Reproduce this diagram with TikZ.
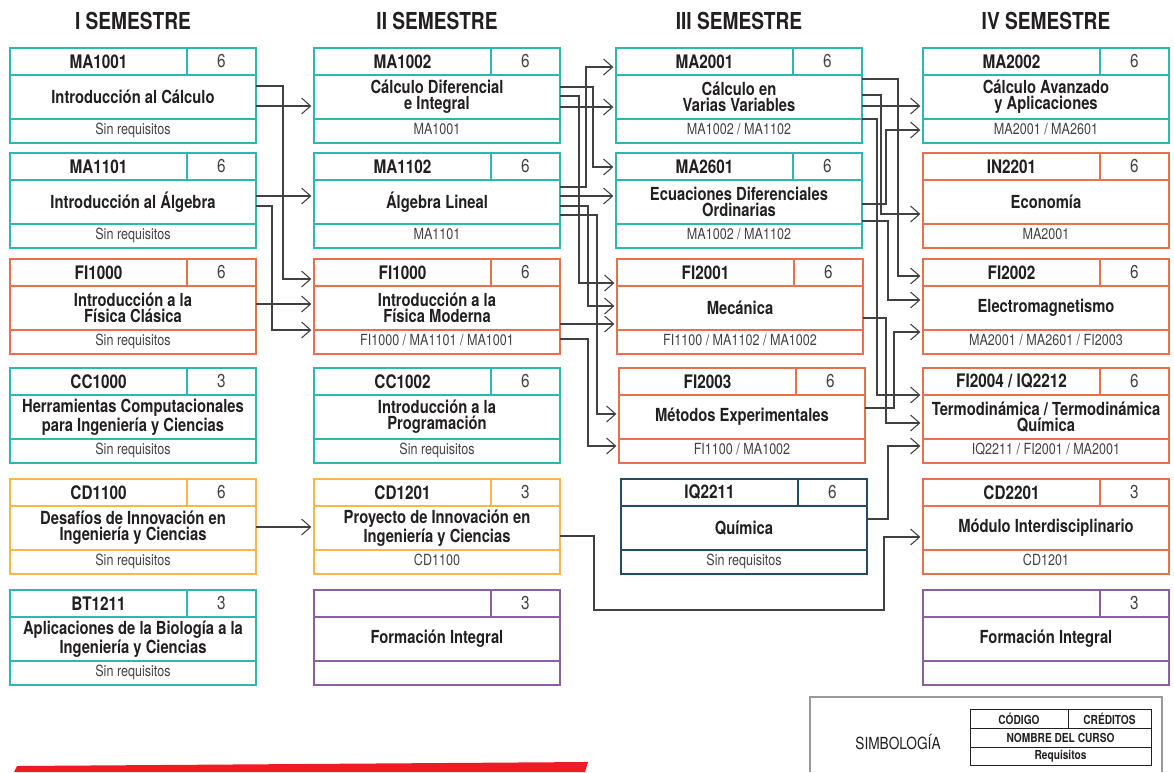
\documentclass[tikz,border=0pt]{standalone}
\usepackage{fontspec}
\setmainfont{TeX Gyre Heros}[FakeStretch=0.82]
\usetikzlibrary{arrows.meta}

\definecolor{mteal}{HTML}{2BB8B0}
\definecolor{morange}{HTML}{E9704D}
\definecolor{myellow}{HTML}{F8B64C}
\definecolor{mpurple}{HTML}{8C5FA0}
\definecolor{mnavy}{HTML}{244A64}
\definecolor{mink}{HTML}{231F20}
\definecolor{mlink}{HTML}{404040}
\definecolor{mred}{HTML}{ED1C24}

\tikzset{
  coursebox/.style={rectangle, line width=1.4pt, inner sep=0pt, outer sep=0pt,
                    minimum width=184.5pt, minimum height=71.25pt},
  codetxt/.style={text=mink, font=\fontsize{14}{16}\selectfont\bfseries},
  credtxt/.style={text=mink!85, font=\fontsize{14}{16}\selectfont},
  nametxt/.style={text=mink, align=center, font=\fontsize{13.5}{12}\selectfont\bfseries},
  reqtxt/.style={text=mink!85, anchor=mid, font=\fontsize{11.5}{13}\selectfont},
  semtitle/.style={text=mink, font=\fontsize{17.5}{20}\selectfont\bfseries},
  link/.style={draw=mlink, line width=0.8pt, shorten >=2pt,
               -{Straight Barb[length=6.75pt,width=12pt]}},
  keytxt/.style={text=mink, font=\fontsize{9.3}{11}\selectfont\bfseries}
}

% #1 name, #2 x, #3 y, #4 colour, #5 code, #6 credits, #7 title, #8 requisites
\newcommand{\curso}[8]{%
  \node[coursebox, draw=#4, anchor=north west] (#1) at (#2,#3) {};
  \draw[#4, line width=1.4pt] ([yshift=-20.25pt]#1.north west) -- ([yshift=-20.25pt]#1.north east);
  \draw[#4, line width=1.4pt] ([yshift=-53.25pt]#1.north west) -- ([yshift=-53.25pt]#1.north east);
  \draw[#4, line width=1.4pt] ([xshift=132.75pt]#1.north west) -- ([xshift=132.75pt,yshift=-20.25pt]#1.north west);
  \node[codetxt] (#1c) at ([xshift=66.4pt,yshift=-10.1pt]#1.north west) {#5};
  \node[credtxt] (#1k) at ([xshift=158.6pt,yshift=-10.1pt]#1.north west) {#6};
  \node[nametxt] (#1n) at ([xshift=92.25pt,yshift=-36.75pt]#1.north west) {#7};
  \node[reqtxt] (#1r) at ([xshift=92.25pt,yshift=-62.25pt]#1.north west) {#8};
}

\begin{document}
\begin{tikzpicture}[x=0.75pt, y=-0.75pt]
  \useasboundingbox (0,0) rectangle (1174,772);

  \foreach \cx/\sem in {133/I, 437/II, 739/III, 1046/IV} {
    \node[semtitle] (sem\sem) at (\cx,21) {\sem\ SEMESTRE};
  }

  % I semestre
  \curso{ma1001}{10}{48}{mteal}{MA1001}{6}{Introducción al Cálculo}{Sin requisitos}
  \curso{ma1101}{10}{153}{mteal}{MA1101}{6}{Introducción al Álgebra}{Sin requisitos}
  \curso{fi1000a}{10}{259}{morange}{FI1000}{6}{Introducción a la\\Física Clásica}{Sin requisitos}
  \curso{cc1000}{10}{368}{mteal}{CC1000}{3}{Herramientas Computacionales\\para Ingeniería y Ciencias}{Sin requisitos}
  \curso{cd1100}{10}{479}{myellow}{CD1100}{6}{Desafíos de Innovación en\\Ingeniería y Ciencias}{Sin requisitos}
  \curso{bt1211}{10}{590}{mteal}{BT1211}{3}{Aplicaciones de la Biología a la\\Ingeniería y Ciencias}{Sin requisitos}

  % II semestre
  \curso{ma1002}{314}{48}{mteal}{MA1002}{6}{Cálculo Diferencial\\e Integral}{MA1001}
  \curso{ma1102}{314}{153}{mteal}{MA1102}{6}{Álgebra Lineal}{MA1101}
  \curso{fi1000b}{314}{259}{morange}{FI1000}{6}{Introducción a la\\Física Moderna}{FI1000 / MA1101 / MA1001}
  \curso{cc1002}{314}{368}{mteal}{CC1002}{6}{Introducción a la\\Programación}{Sin requisitos}
  \curso{cd1201}{314}{479}{myellow}{CD1201}{3}{Proyecto de Innovación en\\Ingeniería y Ciencias}{CD1100}
  \curso{fintA}{314}{590}{mpurple}{}{3}{Formación Integral}{}

  % III semestre
  \curso{ma2001}{616}{48}{mteal}{MA2001}{6}{Cálculo en\\Varias Variables}{MA1002 / MA1102}
  \curso{ma2601}{616}{153}{mteal}{MA2601}{6}{Ecuaciones Diferenciales\\Ordinarias}{MA1002 / MA1102}
  \curso{fi2001}{617}{259}{morange}{FI2001}{6}{Mecánica}{FI1100 / MA1102 / MA1002}
  \curso{fi2003}{619}{368}{morange}{FI2003}{6}{Métodos Experimentales}{FI1100 / MA1002}
  \curso{iq2211}{621}{479}{mnavy}{IQ2211}{6}{Química}{Sin requisitos}

  % IV semestre
  \curso{ma2002}{923}{48}{mteal}{MA2002}{6}{Cálculo Avanzado\\y Aplicaciones}{MA2001 / MA2601}
  \curso{in2201}{923}{153}{morange}{IN2201}{6}{Economía}{MA2001}
  \curso{fi2002}{923}{259}{morange}{FI2002}{6}{Electromagnetismo}{MA2001 / MA2601 / FI2003}
  \curso{fi2004}{923}{368}{morange}{FI2004 / IQ2212}{6}{Termodinámica / Termodinámica\\Química}{IQ2211 / FI2001 / MA2001}
  \curso{cd2201}{923}{479}{morange}{CD2201}{3}{Módulo Interdisciplinario}{CD1201}
  \curso{fintB}{923}{590}{mpurple}{}{3}{Formación Integral}{}

  % requisitos
  \foreach \a/\ya/\xm/\b/\yb in {
      ma1001/106/285/ma1002/106, ma1001/86/283/fi1000b/279,
      ma1101/196/285/ma1102/196, ma1101/206/272/fi1000b/330,
      fi1000a/304/285/fi1000b/304, cd1100/527/285/cd1201/527,
      ma1002/87/593/ma2601/167, ma1002/96/579/fi2001/283,
      ma1002/107/590/ma2001/107, ma1102/187/586/ma2001/67,
      ma1102/196/590/ma2601/196, ma1102/206/588/fi2001/306,
      ma1102/215/597/fi2003/414, fi1000b/324/590/fi2001/324,
      fi1000b/339/588/fi2003/446,
      ma2001/79/898/fi2002/276, ma2001/95/881/in2201/214,
      ma2001/106/890/ma2002/106, ma2001/119/877/fi2004/395,
      ma2601/204/886/ma2002/130, ma2601/221/888/fi2002/300,
      fi2001/318/886/fi2004/423, fi2003/408/894/fi2002/332,
      iq2211/519/888/fi2004/446} {
    \draw[link] (\a.east |- 0,\ya) -| (\xm,\yb) -- (\b.west |- 0,\yb);
  }
  \draw[link] (cd1201.east |- 0,536) -| (594,610) -| (884,537) -- (cd2201.west |- 0,537);

  % simbologia
  \draw[gray!80, line width=0.8pt] (810,772) -- (810,697) -- (1162,697) -- (1162,772);
  \node[text=mink, font=\fontsize{12.5}{14}\selectfont] (simb) at (898,742) {SIMBOLOGÍA};
  \node[draw=mink, line width=0.6pt, inner sep=0pt, anchor=north west,
        minimum width=135.75pt, minimum height=42pt] (key) at (970,709) {};
  \draw[mink, line width=0.6pt] ([yshift=-14.25pt]key.north west) -- ([yshift=-14.25pt]key.north east);
  \draw[mink, line width=0.6pt] ([yshift=-28.5pt]key.north west) -- ([yshift=-28.5pt]key.north east);
  \draw[mink, line width=0.6pt] ([xshift=73.5pt]key.north west) -- ([xshift=73.5pt,yshift=-14.25pt]key.north west);
  \node[keytxt] (keycode) at (1019,718.5) {CÓDIGO};
  \node[keytxt] (keycred) at (1109.5,718.5) {CRÉDITOS};
  \node[keytxt] (keyname) at (1060.5,737.5) {NOMBRE DEL CURSO};
  \node[keytxt] (keyreq) at (1060.5,756) {Requisitos};

  % franja roja
  \fill[mred] (14,772) -- (17,766) -- (588,762) -- (585,772) -- cycle;
\end{tikzpicture}
\end{document}
